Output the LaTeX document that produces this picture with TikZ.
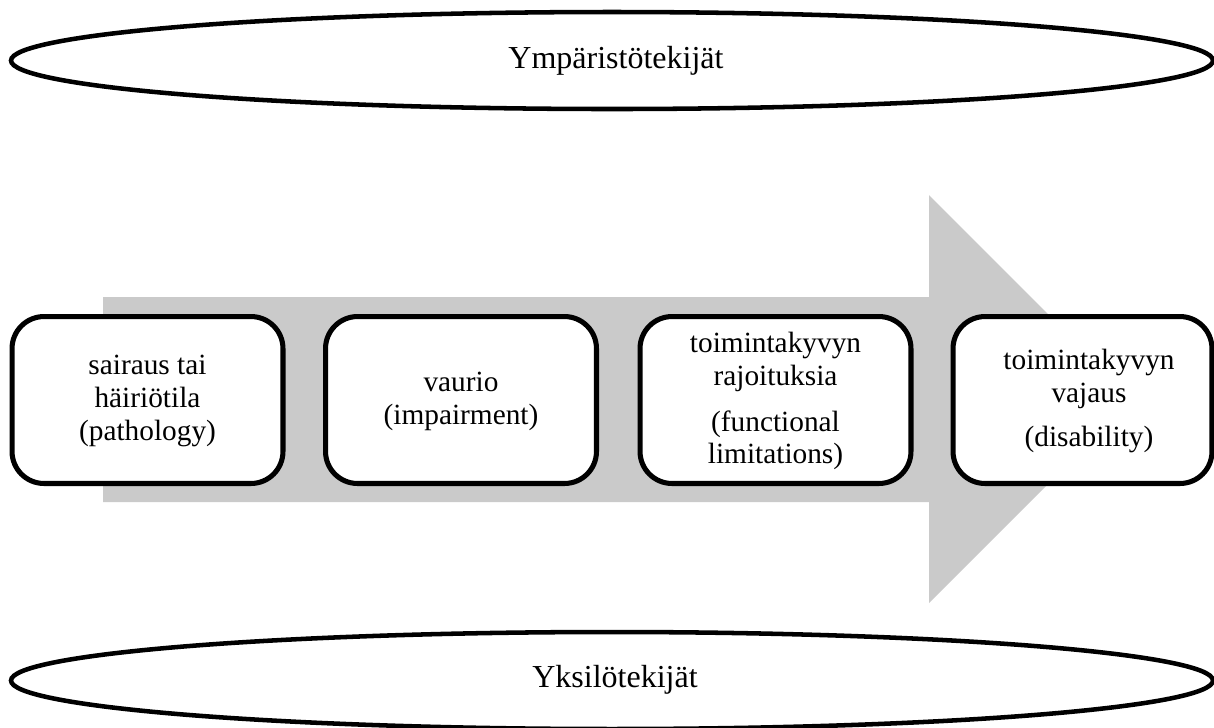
\documentclass[tikz,border=0pt]{standalone}
\usepackage{fontspec}
\setmainfont{Liberation Serif}
\definecolor{arrowgray}{RGB}{202,202,202}
\begin{document}
\begin{tikzpicture}[x=0.375pt,y=-0.375pt,
  stepbox/.style={draw=black,line width=1.9pt,rounded corners=12pt,fill=white,
    minimum width=101.6pt,minimum height=62.6pt,inner sep=0pt},
  boxtext/.style={align=center,font=\fontsize{11}{12.3}\selectfont,inner sep=0pt},
  oval/.style={draw=black,line width=1.7pt,fill=white},
  ovaltext/.style={font=\fontsize{12}{14}\selectfont,inner sep=0pt}]
\useasboundingbox (0,0) rectangle (1214,727);
% big gray arrow
\fill[arrowgray] (103,297) -- (929,297) -- (929,195) -- (1133,399) -- (929,603) -- (929,502) -- (103,502) -- cycle;
% ellipses
\draw[oval] (612,60.5) ellipse [x radius=601, y radius=48.5];
\node[ovaltext] (env) at (616,60.5) {Ympäristötekijät};
\draw[oval] (612,680.5) ellipse [x radius=601, y radius=48.5];
\node[ovaltext] (ind) at (615,680) {Yksilötekijät};
% boxes
\node[stepbox] (b1) at (147.5,400) {};
\node[stepbox] (b2) at (461,400) {};
\node[stepbox] (b3) at (775.5,400) {};
\node[stepbox,minimum width=97.1pt] (b4) at (1082.5,400) {};
\node[boxtext] (t1) at (147.5,401) {sairaus tai\\häiriötila\\(pathology)};
\node[boxtext] (t2) at (461,401) {vaurio\\(impairment)};
\node[boxtext] (t3) at (775.5,401) {toimintakyvyn\\rajoituksia\\[5pt](functional\\limitations)};
\node[boxtext] (t4) at (1089,401) {toimintakyvyn\\vajaus\\[4pt](disability)};
\end{tikzpicture}
\end{document}
